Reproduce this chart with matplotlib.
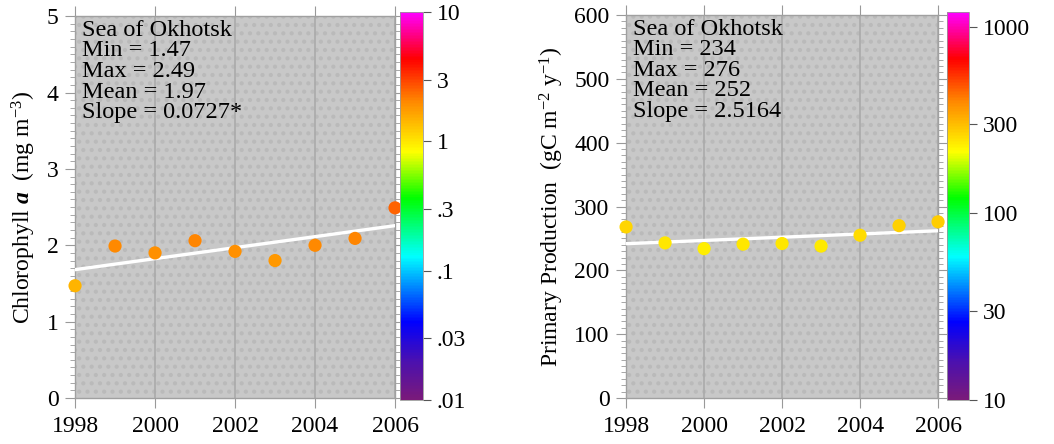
import numpy as np
import matplotlib.pyplot as plt
from matplotlib.colors import LinearSegmentedColormap, LogNorm
from matplotlib.cm import ScalarMappable
from matplotlib.patches import Rectangle
from matplotlib.ticker import MultipleLocator, NullLocator

plt.rcParams['font.family'] = ['Liberation Serif', 'DejaVu Serif']
plt.rcParams['mathtext.fontset'] = 'custom'
plt.rcParams['mathtext.rm'] = 'Liberation Serif'
plt.rcParams['mathtext.it'] = 'Liberation Serif:italic'
plt.rcParams['mathtext.bf'] = 'Liberation Serif:bold'
plt.rcParams['mathtext.bfit'] = 'Liberation Serif:bold:italic'
plt.rcParams['hatch.linewidth'] = 1.8

years = [1998, 1999, 2000, 2001, 2002, 2003, 2004, 2005, 2006]
chl = [1.47, 1.99, 1.90, 2.06, 1.92, 1.80, 2.00, 2.09, 2.49]
pp = [268, 243, 234, 241, 242, 238, 255, 270, 276]

chl_text = "Sea of Okhotsk\nMin = 1.47\nMax = 2.49\nMean = 1.97\nSlope = 0.0727*"
pp_text = "Sea of Okhotsk\nMin = 234\nMax = 276\nMean = 252\nSlope = 2.5164"

chl_cticks = [0.01, 0.03, 0.1, 0.3, 1, 3, 10]
chl_clabels = ['.01', '.03', '.1', '.3', '1', '3', '10']
pp_cticks = [10, 30, 100, 300, 1000]
pp_clabels = ['10', '30', '100', '300', '1000']

# rainbow scale used for the colour bars
rainbow = LinearSegmentedColormap.from_list('rb', [
    (0.0, '#7a1a7a'), (0.1, '#4a10b0'), (0.2, '#0000ff'), (0.37, '#00ffff'),
    (0.52, '#00ff00'), (0.64, '#ffff00'), (0.77, '#ff8800'),
    (0.88, '#ff0000'), (1.0, '#ff00ff')])

fig = plt.figure(figsize=(10.54, 4.44), dpi=100)
tick_col = '#999999'


def panel(rect, crect, vals, ylim, major, minor, ylabel, txt, norm, cticks, clabels):
    ax = fig.add_axes(rect)
    ax.set_facecolor('#c8c8c8')
    ax.add_patch(Rectangle((0, 0), 1, 1, transform=ax.transAxes, facecolor='none',
                           edgecolor='#bababa', hatch='..', lw=0, zorder=0))
    ax.set_xlim(1998, 2006)
    ax.set_ylim(*ylim)
    ax.xaxis.set_major_locator(MultipleLocator(2))
    ax.xaxis.set_minor_locator(NullLocator())
    ax.yaxis.set_major_locator(MultipleLocator(major))
    ax.yaxis.set_minor_locator(MultipleLocator(minor))
    ax.grid(axis='x', color='#aaaaaa', lw=1.2, zorder=1)
    for s in ax.spines.values():
        s.set_color('#a0a0a0')
        s.set_linewidth(1)
    ax.tick_params(which='both', top=True, right=True, color=tick_col,
                   labelsize=17, direction='out')
    ax.tick_params(which='major', length=7)
    ax.tick_params(which='minor', length=3.5)
    ax.tick_params(axis='x', pad=6)
    ax.tick_params(axis='y', pad=5)
    ax.set_ylabel(ylabel, fontsize=17, labelpad=6)

    a, b = np.polyfit(years, vals, 1)
    xs = np.array([1998, 2006])
    ax.plot(xs, a * xs + b, color='white', lw=2.4, zorder=3)
    ax.scatter(years, vals, s=90, c=[rainbow(norm(v)) for v in vals],
               edgecolors='none', zorder=4, clip_on=False)

    ax.text(0.022, 0.99, txt, transform=ax.transAxes, ha='left', va='top',
            fontsize=17.5, linespacing=0.97, zorder=5)

    cax = fig.add_axes(crect)
    cb = fig.colorbar(ScalarMappable(norm=norm, cmap=rainbow), cax=cax)
    cb.set_ticks(cticks)
    cb.set_ticklabels(clabels)
    cax.yaxis.set_minor_locator(NullLocator())
    cax.tick_params(labelsize=17, length=6, color='#555555', pad=4)
    cb.outline.set_edgecolor('#999999')
    cb.outline.set_linewidth(0.6)
    return ax


panel([0.0712, 0.1036, 0.3036, 0.860], [0.3795, 0.099, 0.0218, 0.874],
      chl, (0, 5), 1, 0.1,
      r"Chlorophyll $\mathbfit{a}$  (mg m$^{-3}$)", chl_text,
      LogNorm(0.01, 10), chl_cticks, chl_clabels)

panel([0.594, 0.1036, 0.296, 0.8626], [0.8985, 0.099, 0.0209, 0.874],
      pp, (0, 600), 100, 10,
      r"Primary Production  (gC m$^{-2}$ y$^{-1}$)", pp_text,
      LogNorm(10, 1200), pp_cticks, pp_clabels)

plt.savefig('out.png', dpi=100)
